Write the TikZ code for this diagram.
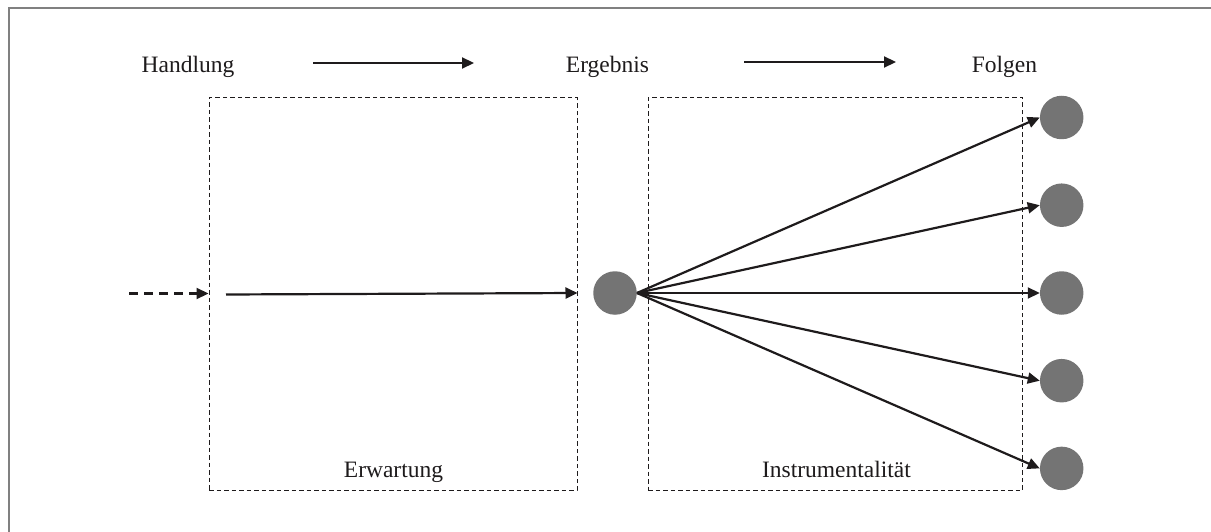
\documentclass[tikz,border=0pt]{standalone}
\usepackage{fontspec}
\setmainfont{Liberation Serif}
\usetikzlibrary{arrows.meta,calc}

\definecolor{framegray}{RGB}{128,128,128}
\definecolor{dotgray}{RGB}{116,116,116}
\definecolor{inkdark}{RGB}{30,27,28}

\tikzset{
  label text/.style={anchor=base, inner sep=0pt, text=inkdark,
                     font=\fontsize{23.5}{27}\selectfont},
  phase box/.style={draw=inkdark, line width=1pt,
                    dash pattern=on 4.5pt off 3pt, inner sep=0pt},
  outcome/.style={circle, fill=dotgray, draw=none, minimum size=43.5pt, inner sep=0pt},
  flow/.style={draw=inkdark, line width=2.2pt,
               -{Triangle[length=12pt,width=11pt]}},
  lead in/.style={flow, dash pattern=on 9pt off 6pt},
}

\begin{document}
\begin{tikzpicture}[x=1pt,y=-1pt]
  % page area and outer frame (only top and left edges fall on the page)
  \useasboundingbox (0,0) rectangle (1211,532);
  \draw[framegray, line width=2pt] (8.5,532) -- (8.5,7.7) -- (1211,7.7);

  % stage headings
  \node[label text] (hand) at (188,73) {Handlung};
  \node[label text] (erg)  at (607.5,72.5) {Ergebnis};
  \node[label text] (folg) at (1004.5,72.5) {Folgen};

  \coordinate (h1) at (313,63);
  \coordinate (h2) at (474,63);
  \coordinate (g1) at (744,62);
  \coordinate (g2) at (896,62);
  \draw[flow] (h1) -- (h2);
  \draw[flow] (g1) -- (g2);

  % the two dashed phases
  \node[phase box, minimum width=368pt, minimum height=392pt] (erw)
       at (393,294) {};
  \node[phase box, minimum width=374pt, minimum height=393pt] (instr)
       at (835,294) {};
  \node[label text] (erwlab)   at (393.5,477) {Erwartung};
  \node[label text] (instrlab) at (836.5,477) {Instrumentalität};

  % result and consequences
  \node[outcome] (res) at (615,293) {};
  \node[outcome] (f1) at (1061.7,117.5) {};
  \node[outcome] (f2) at (1061.7,205.2) {};
  \node[outcome] (f3) at (1061.7,293) {};
  \node[outcome] (f4) at (1061.7,380.7) {};
  \node[outcome] (f5) at (1061.7,468.4) {};

  % action leading to the result
  \coordinate (in0) at (129,293.5);
  \coordinate (in1) at (226,294.5);
  \draw[lead in] (in0) -- (erw.west |- in0);
  \draw[flow] (in1) -- (erw.east |- res);

  % result fanning out to the consequences
  \foreach \k in {1,...,5}
    \draw[flow] (res.east) -- (f\k.west);
\end{tikzpicture}
\end{document}
